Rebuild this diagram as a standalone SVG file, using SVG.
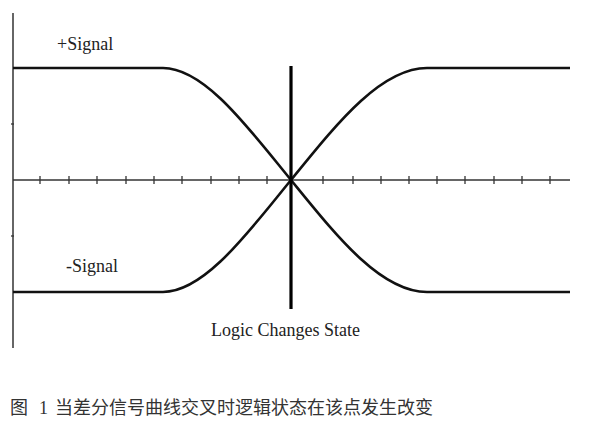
<svg xmlns="http://www.w3.org/2000/svg" width="590" height="426" viewBox="0 0 590 426">
<style>
.axis{stroke:#333;stroke-width:1.5;fill:none}
.tick{stroke:#333;stroke-width:1.3}
.sig{stroke:#111;stroke-width:2.6;fill:none;stroke-linejoin:round}
.lbl{font-family:"Liberation Serif","Times New Roman",serif;font-size:18px;fill:#222}
.cap{font-family:"Liberation Serif","Noto Sans CJK SC",serif;font-size:18px;fill:#333}
</style>
<rect width="590" height="426" fill="#fff"/>
<g id="axes">
<line class="axis" x1="13" y1="13" x2="13" y2="348"/>
<line class="axis" x1="13" y1="180" x2="570" y2="180"/>
<g class="tick">
<line x1="11" y1="124" x2="14" y2="124"/>
<line x1="11" y1="236" x2="14" y2="236"/>
<line x1="40" y1="176" x2="40" y2="184"/>
<line x1="69" y1="176" x2="69" y2="184"/>
<line x1="97" y1="176" x2="97" y2="184"/>
<line x1="126" y1="176" x2="126" y2="184"/>
<line x1="154" y1="176" x2="154" y2="184"/>
<line x1="182" y1="176" x2="182" y2="184"/>
<line x1="211" y1="176" x2="211" y2="184"/>
<line x1="239" y1="176" x2="239" y2="184"/>
<line x1="267" y1="176" x2="267" y2="184"/>
<line x1="323" y1="176" x2="323" y2="184"/>
<line x1="353" y1="176" x2="353" y2="184"/>
<line x1="381" y1="176" x2="381" y2="184"/>
<line x1="409" y1="176" x2="409" y2="184"/>
<line x1="437" y1="176" x2="437" y2="184"/>
<line x1="465" y1="176" x2="465" y2="184"/>
<line x1="494" y1="176" x2="494" y2="184"/>
<line x1="522" y1="176" x2="522" y2="184"/>
<line x1="550" y1="176" x2="550" y2="184"/>
</g>
</g>
<g id="plus-signal">
<path class="sig" d="M13,68 L163,68 C205,68 250,130 291,180 C335,234 380,292 427,292 L570,292"/>
<text class="lbl" x="57" y="50">+Signal</text>
</g>
<g id="minus-signal">
<path class="sig" d="M13,292 L163,292 C205,292 250,230 291,180 C335,126 380,68 427,68 L570,68"/>
<text class="lbl" x="66" y="272">-Signal</text>
</g>
<g id="logic-change">
<line x1="291" y1="66" x2="291" y2="309" stroke="#000" stroke-width="3.2"/>
<text class="lbl" x="211" y="336">Logic Changes State</text>
</g>
<g id="caption">
<text class="cap" y="414"><tspan x="10">图</tspan><tspan x="39">1</tspan><tspan x="55">当差分信号曲线交叉时逻辑状态在该点发生改变</tspan></text>
</g>
</svg>
